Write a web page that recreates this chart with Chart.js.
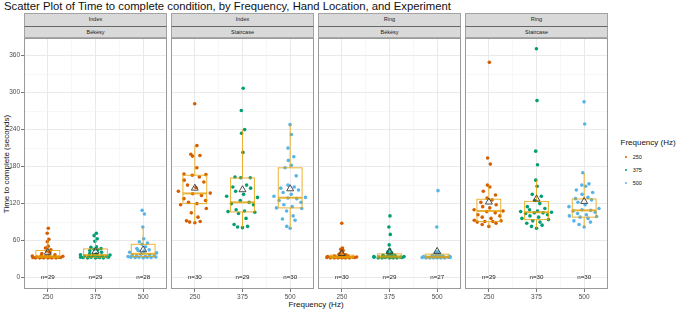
<!DOCTYPE html>
<html><head><meta charset="utf-8">
<script src="https://cdn.jsdelivr.net/npm/chart.js@4.4.1/dist/chart.umd.min.js"></script>
<style>
body{margin:0;background:#fff;width:676px;height:310px;position:relative;overflow:hidden;font-family:"Liberation Sans",Arial,sans-serif;}
.abs{position:absolute;white-space:nowrap;}
canvas{position:absolute;}
.strip{position:absolute;background:#d9d9d9;box-sizing:border-box;border:1px solid #a3a3a3;font-size:5.5px;color:#1a1a1a;text-align:center;}
</style></head><body>
<div id="title" class="abs" style="left:4px;top:-0.5px;font-size:11.3px;line-height:12px;color:#111">Scatter Plot of Time to complete condition, by Frequency, Hand Location, and Experiment</div>
<div class="abs" style="left:5.5px;top:163.5px;font-size:8px;line-height:9px;transform:translate(-50%,-50%) rotate(-90deg);color:#111">Time to complete (seconds)</div>
<div class="abs" style="left:316px;top:304px;font-size:8px;line-height:9px;transform:translate(-50%,-50%);color:#111">Frequency (Hz)</div>
<div id="legend"></div>
<script>
// ---------- data ----------
const categories = ['250', '375', '500'];
const handLocation = ['Index', 'Index', 'Ring', 'Ring'];
const experiment = ['Békésy', 'Staircase', 'Békésy', 'Staircase'];
const legendTitle = 'Frequency (Hz)';
const yTicks = [0, 60, 120, 180, 240, 300, 360];

// Index / Békésy
const indexBekesy250 = [80, 72, 62, 58, 51, 48, 45, 43, 41, 39, 37, 36, 35, 35, 34.5, 34, 34, 33.5, 33, 33, 33, 32.5, 32.5, 32, 32, 32, 32, 32, 32];
const indexBekesy375 = [72, 68, 63, 59, 50, 49, 47, 46, 45, 44, 41, 39, 38, 37, 36.5, 36, 35, 35, 34, 34, 33.5, 33, 33, 33, 32.5, 32.5, 32, 32, 32];
const indexBekesy500 = [109, 103, 82, 63, 58, 56, 54, 50, 47, 45, 44, 43, 41, 40, 38, 37, 36, 35, 35, 34, 34, 33.5, 33, 33, 33, 32.5, 32.5, 32];
// Index / Staircase
const indexStair250 = [282, 214, 200, 198, 197, 178, 168, 167, 166, 163, 158, 155, 150, 146, 140, 137, 136, 133, 128, 125, 122, 120, 118, 112, 105, 98, 92, 91, 90, 89];
const indexStair375 = [307, 271, 240, 234, 203, 163, 162, 162, 150, 147, 145, 140, 135, 132, 130, 125, 122, 120, 118, 110, 108, 107, 106, 104, 96, 86, 83, 82, 81];
const indexStair500 = [248, 232, 210, 196, 190, 182, 178, 165, 150, 147, 145, 142, 138, 135, 132, 130, 129, 128, 125, 122, 118, 115, 113, 112, 108, 100, 95, 93, 83, 80];
// Ring / Békésy
const ringBekesy250 = [88, 48, 46, 44, 42, 40, 38, 37, 36, 36, 35, 35, 34, 34, 34, 33.5, 33.5, 33, 33, 33, 33, 32.5, 32.5, 32.5, 32, 32, 32, 32, 32, 32];
const ringBekesy375 = [100, 82, 70, 53, 45, 42, 40, 38, 37, 36, 36, 35, 35, 34, 34, 34, 33.5, 33.5, 33, 33, 33, 33, 32.5, 32.5, 32, 32, 32, 32, 32];
const ringBekesy500 = [141, 82, 42, 40, 38, 37, 36, 36, 35, 35, 34, 34, 34, 33.5, 33.5, 33, 33, 33, 33, 32.5, 32.5, 32, 32, 32, 32, 32, 32];
// Ring / Staircase
const ringStair250 = [349, 194, 184, 150, 147, 140, 134, 129, 126, 122, 118, 115, 113, 110, 108, 107, 105, 102, 100, 98, 96, 93, 92, 91, 91, 90, 88, 86, 83];
const ringStair375 = [371, 287, 205, 183, 158, 148, 135, 132, 125, 120, 115, 112, 110, 108, 107, 106, 105, 105, 104, 102, 100, 98, 96, 94, 92, 90, 88, 85, 83, 80];
const ringStair500 = [285, 249, 170, 152, 150, 148, 142, 138, 135, 130, 128, 126, 122, 118, 115, 112, 110, 109, 108, 106, 104, 102, 100, 99, 98, 96, 92, 90, 86, 82];

// box statistics per panel (rows) and frequency (columns)
const boxQ1     = [[32.5, 33, 34], [120, 106.5, 113], [32, 32, 32], [91, 94, 98]];
const boxMedian = [[34.5, 36.5, 38.5], [136.5, 122, 129.5], [33.5, 34.5, 34], [108, 106, 109]];
const boxQ3     = [[44, 46.5, 54], [166, 161.5, 178], [36.5, 38.5, 38], [127, 123.5, 127.5]];
const whiskerLo = [[32, 32, 32], [89, 81, 80], [32, 32, 32], [83, 80, 82]];
const whiskerHi = [[62, 68, 82], [214, 240, 248], [42, 45, 42], [150, 158, 170]];
const groupMean = [[41, 42.5, 45], [145, 142.5, 144], [39, 42, 42.5], [122.5, 127.5, 123.5]];

const panelValues = [
  [indexBekesy250, indexBekesy375, indexBekesy500],
  [indexStair250, indexStair375, indexStair500],
  [ringBekesy250, ringBekesy375, ringBekesy500],
  [ringStair250, ringStair375, ringStair500]
];

// ---------- style ----------
const FONT = '"Liberation Sans", Arial, sans-serif';
const pointColors = ['#D55E00', '#009E73', '#56B4E9'];
const boxColor = 'rgba(230,159,0,0.8)';
const panelLefts = [24, 171, 318, 465];
const panelW = 143, panelH = 251, panelTop = 38, xAxisH = 16, yAxisW = 24;

// quasirandom horizontal offsets (layout only)
function vdc(n) { let v = 0, d = 1; while (n) { d *= 2; v += (n % 2) / d; n = Math.floor(n / 2); } return v; }
function offsets(vals, width) {
  const n = vals.length;
  const m = vals.reduce((a, b) => a + b, 0) / n;
  const sd = Math.sqrt(vals.reduce((a, b) => a + (b - m) ** 2, 0) / (n - 1));
  const s = [...vals].sort((a, b) => a - b);
  const q = p => { const h = (n - 1) * p, lo = Math.floor(h); const hi = Math.min(lo + 1, n - 1); return s[lo] + (h - lo) * (s[hi] - s[lo]); };
  const iqr = q(0.75) - q(0.25);
  const bw = Math.max(0.9 * Math.min(sd, iqr / 1.34) * Math.pow(n, -0.2), 0.5);
  const dens = vals.map(v => vals.reduce((a, u) => a + Math.exp(-0.5 * ((v - u) / bw) ** 2), 0));
  const maxD = Math.max(...dens);
  const order = vals.map((v, i) => i).sort((a, b) => vals[a] - vals[b] || a - b);
  const rank = new Array(n); order.forEach((idx, r) => rank[idx] = r + 1);
  return vals.map((v, i) => (vdc(rank[i]) * 2 - 1) * width * dens[i] / maxD);
}

const boxPlugin = {
  id: 'boxes',
  beforeDatasetDraw(chart, args, opts) {
    if (args.index !== 0) return;
    const p = opts.panel, x = chart.scales.x, y = chart.scales.y, ctx = chart.ctx;
    ctx.save();
    ctx.strokeStyle = boxColor;
    for (let i = 0; i < 3; i++) {
      const cx = x.getPixelForValue(i + 1);
      const xl = x.getPixelForValue(i + 1 - 0.25), xr = x.getPixelForValue(i + 1 + 0.25);
      const y1 = y.getPixelForValue(boxQ1[p][i]), y3 = y.getPixelForValue(boxQ3[p][i]);
      const ym = y.getPixelForValue(boxMedian[p][i]);
      const ylo = y.getPixelForValue(whiskerLo[p][i]), yhi = y.getPixelForValue(whiskerHi[p][i]);
      ctx.lineWidth = 1;
      ctx.beginPath();
      ctx.moveTo(cx, y3); ctx.lineTo(cx, yhi);
      ctx.moveTo(cx, y1); ctx.lineTo(cx, ylo);
      ctx.stroke();
      ctx.strokeRect(xl, y3, xr - xl, y1 - y3);
      ctx.lineWidth = 2;
      ctx.beginPath(); ctx.moveTo(xl, ym); ctx.lineTo(xr, ym); ctx.stroke();
    }
    ctx.restore();
  },
  afterDraw(chart, args, opts) {
    const p = opts.panel, x = chart.scales.x, y = chart.scales.y, ctx = chart.ctx, a = chart.chartArea;
    ctx.save();
    ctx.font = '6.2px ' + FONT;
    ctx.fillStyle = '#1a1a1a';
    ctx.textAlign = 'center';
    ctx.textBaseline = 'middle';
    for (let i = 0; i < 3; i++) {
      ctx.fillText('n=' + panelValues[p][i].length, x.getPixelForValue(i + 1), y.getPixelForValue(0));
    }
    ctx.strokeStyle = '#9a9a9a';
    ctx.lineWidth = 1;
    ctx.strokeRect(a.left + 0.5, a.top + 0.5, a.right - a.left - 1, a.bottom - a.top - 1);
    ctx.restore();
  }
};

function zeroPad(s) { s.paddingTop = 0; s.paddingBottom = 0; s.paddingLeft = 0; s.paddingRight = 0; }

function makePanel(p) {
  const withY = p === 0;
  const yW = withY ? yAxisW : 0;
  const cv = document.createElement('canvas');
  const w = panelW + yW, h = panelH + xAxisH;
  cv.width = w; cv.height = h;
  cv.style.width = w + 'px'; cv.style.height = h + 'px';
  cv.style.left = (panelLefts[p] - yW) + 'px'; cv.style.top = panelTop + 'px';
  document.body.appendChild(cv);

  const datasets = [{
    label: 'mean',
    data: groupMean[p].map((m, i) => ({ x: i + 1, y: m })),
    pointStyle: 'triangle', pointRadius: 4, pointBorderColor: '#3a3a3a', pointBackgroundColor: 'rgba(0,0,0,0)',
    pointBorderWidth: 0.9, order: 0
  }];
  panelValues[p].forEach((vals, i) => {
    const off = offsets(vals, 0.37);
    datasets.push({
      label: categories[i],
      data: vals.map((v, k) => ({ x: i + 1 + off[k], y: v })),
      pointRadius: 1.8, pointBorderWidth: 0, pointBackgroundColor: pointColors[i], order: 1
    });
  });

  new Chart(cv, {
    type: 'scatter',
    data: { datasets },
    options: {
      responsive: false, animation: false, devicePixelRatio: 1,
      layout: { padding: 0, autoPadding: false },
      plugins: { legend: { display: false }, tooltip: { enabled: false }, boxes: { panel: p } },
      scales: {
        x: {
          type: 'linear', min: 0.5, max: 3.5,
          afterBuildTicks: s => { s.ticks = [1, 1.5, 2, 2.5, 3].map(v => ({ value: v })); },
          afterFit: s => { s.height = xAxisH; zeroPad(s); },
          ticks: { autoSkip: false, maxRotation: 0, minRotation: 0, padding: 1, color: '#4d4d4d', font: { size: 6.5, family: FONT },
                   callback: v => Number.isInteger(v) ? categories[v - 1] : '' },
          grid: { color: c => Number.isInteger(c.tick.value) ? '#e8e8e8' : '#f2f2f2', lineWidth: c => Number.isInteger(c.tick.value) ? 0.9 : 0.6,
                  tickLength: 3, tickColor: c => Number.isInteger(c.tick.value) ? '#555' : 'rgba(0,0,0,0)', tickWidth: 0.8 },
          border: { display: false }
        },
        y: {
          type: 'linear', min: -18.5, max: 388.5,
          afterBuildTicks: s => {
            const t = [];
            yTicks.forEach((v, k) => { t.push({ value: v }); if (k < yTicks.length - 1) t.push({ value: v + 30 }); });
            s.ticks = t;
          },
          afterFit: s => { s.width = yW; zeroPad(s); },
          ticks: { display: withY, padding: 1, color: '#4d4d4d', font: { size: 6.5, family: FONT },
                   callback: v => yTicks.includes(v) ? String(v) : '' },
          grid: { color: c => yTicks.includes(c.tick.value) ? '#e8e8e8' : '#f2f2f2', lineWidth: c => yTicks.includes(c.tick.value) ? 0.9 : 0.6,
                  drawTicks: withY, tickLength: 3, tickColor: c => yTicks.includes(c.tick.value) ? '#555' : 'rgba(0,0,0,0)', tickWidth: 0.8 },
          border: { display: false }
        }
      }
    },
    plugins: [boxPlugin]
  });
}

// strips
for (let p = 0; p < 4; p++) {
  const s1 = document.createElement('div');
  s1.className = 'strip';
  s1.style.cssText = `left:${panelLefts[p]}px;top:13px;width:${panelW}px;height:13.5px;line-height:11.5px;border-bottom-color:#666;`;
  s1.textContent = handLocation[p];
  document.body.appendChild(s1);
  const s2 = document.createElement('div');
  s2.className = 'strip';
  s2.style.cssText = `left:${panelLefts[p]}px;top:26.5px;width:${panelW}px;height:11.5px;line-height:10px;border-top:none;border-bottom:1.5px solid #a8a8a8;`;
  s2.textContent = experiment[p];
  document.body.appendChild(s2);
}
for (let p = 0; p < 4; p++) makePanel(p);

// legend
const lg = document.getElementById('legend');
let html = `<div class="abs" style="left:620.5px;top:138px;font-size:8px;line-height:10px;color:#111">${legendTitle}</div>`;
categories.forEach((c, i) => {
  const yc = 157 + i * 13;
  html += `<div class="abs" style="left:624.7px;top:${yc - 1.3}px;width:2.6px;height:2.6px;border-radius:50%;background:${pointColors[i]}"></div>`;
  html += `<div class="abs" style="left:632.7px;top:${yc - 3.5}px;font-size:5.5px;line-height:7px;color:#111">${c}</div>`;
});
lg.innerHTML = html;
</script>
</body></html>
